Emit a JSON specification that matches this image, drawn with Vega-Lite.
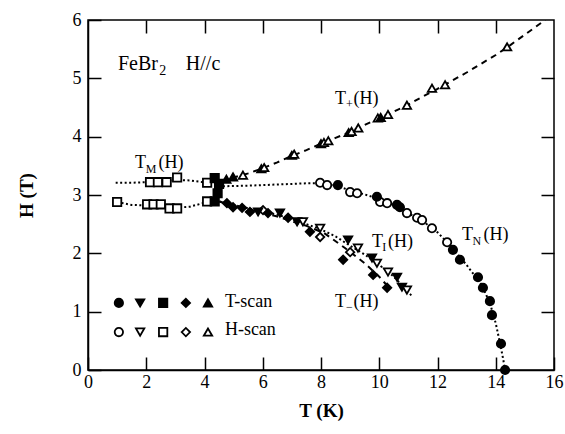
{
  "$schema": "https://vega.github.io/schema/vega-lite/v6.json",
  "width": 466,
  "height": 350,
  "autosize": "none",
  "padding": {"left": 88, "top": 20, "right": 11, "bottom": 64},
  "background": "white",
  "config": {
    "font": "Liberation Serif, Times New Roman, Times, serif",
    "view": {"stroke": "black", "strokeWidth": 1.5},
    "text": {"font": "Liberation Serif, Times New Roman, Times, serif"},
    "axis": {"grid": false, "domainColor": "black", "domainWidth": 1.5, "tickColor": "black", "tickWidth": 1.5, "labelColor": "black", "titleColor": "black", "labelFont": "Liberation Serif, Times New Roman, Times, serif", "titleFont": "Liberation Serif, Times New Roman, Times, serif"}
  },
  "datasets": {
    "lines": [
      {"curve": "upper", "style": "dotted", "T": 0.95, "H": 3.21},
      {"curve": "upper", "style": "dotted", "T": 1.5, "H": 3.21},
      {"curve": "upper", "style": "dotted", "T": 2.0, "H": 3.22},
      {"curve": "upper", "style": "dotted", "T": 2.5, "H": 3.22},
      {"curve": "upper", "style": "dotted", "T": 3.0, "H": 3.26},
      {"curve": "upper", "style": "dotted", "T": 3.5, "H": 3.25},
      {"curve": "upper", "style": "dotted", "T": 4.1, "H": 3.21},
      {"curve": "upper", "style": "dotted", "T": 4.6, "H": 3.15},
      {"curve": "upper", "style": "dotted", "T": 5.5, "H": 3.16},
      {"curve": "upper", "style": "dotted", "T": 6.5, "H": 3.18},
      {"curve": "upper", "style": "dotted", "T": 7.5, "H": 3.2},
      {"curve": "upper", "style": "dotted", "T": 8.0, "H": 3.2},
      {"curve": "upper", "style": "dotted", "T": 8.5, "H": 3.16},
      {"curve": "upper", "style": "dotted", "T": 9.0, "H": 3.08},
      {"curve": "upper", "style": "dotted", "T": 9.5, "H": 3.01},
      {"curve": "upper", "style": "dotted", "T": 10.0, "H": 2.93},
      {"curve": "upper", "style": "dotted", "T": 10.5, "H": 2.83},
      {"curve": "upper", "style": "dotted", "T": 11.0, "H": 2.69},
      {"curve": "upper", "style": "dotted", "T": 11.5, "H": 2.55},
      {"curve": "upper", "style": "dotted", "T": 12.0, "H": 2.36},
      {"curve": "upper", "style": "dotted", "T": 12.5, "H": 2.1},
      {"curve": "upper", "style": "dotted", "T": 13.0, "H": 1.8},
      {"curve": "upper", "style": "dotted", "T": 13.5, "H": 1.47},
      {"curve": "upper", "style": "dotted", "T": 13.8, "H": 1.15},
      {"curve": "upper", "style": "dotted", "T": 14.0, "H": 0.8},
      {"curve": "upper", "style": "dotted", "T": 14.15, "H": 0.45},
      {"curve": "upper", "style": "dotted", "T": 14.25, "H": 0.2},
      {"curve": "upper", "style": "dotted", "T": 14.32, "H": 0.0},
      {"curve": "lower", "style": "dotted", "T": 1.0, "H": 2.88},
      {"curve": "lower", "style": "dotted", "T": 1.5, "H": 2.83},
      {"curve": "lower", "style": "dotted", "T": 2.0, "H": 2.82},
      {"curve": "lower", "style": "dotted", "T": 3.0, "H": 2.78},
      {"curve": "lower", "style": "dotted", "T": 3.5, "H": 2.8},
      {"curve": "lower", "style": "dotted", "T": 4.1, "H": 2.88},
      {"curve": "lower", "style": "dotted", "T": 4.5, "H": 2.89},
      {"curve": "lower", "style": "dotted", "T": 5.0, "H": 2.83},
      {"curve": "lower", "style": "dotted", "T": 5.5, "H": 2.77},
      {"curve": "lower", "style": "dotted", "T": 6.0, "H": 2.72},
      {"curve": "lower", "style": "dotted", "T": 6.5, "H": 2.66},
      {"curve": "lower", "style": "dotted", "T": 7.0, "H": 2.59},
      {"curve": "lower", "style": "dotted", "T": 7.5, "H": 2.5},
      {"curve": "lower", "style": "dotted", "T": 8.0, "H": 2.41},
      {"curve": "lower", "style": "dotted", "T": 8.5, "H": 2.29},
      {"curve": "lower", "style": "dotted", "T": 9.0, "H": 2.13},
      {"curve": "lower", "style": "dotted", "T": 9.5, "H": 1.98},
      {"curve": "lower", "style": "dotted", "T": 10.0, "H": 1.8},
      {"curve": "lower", "style": "dotted", "T": 10.5, "H": 1.6},
      {"curve": "lower", "style": "dotted", "T": 11.1, "H": 1.28},
      {"curve": "minus", "style": "dashed", "T": 4.5, "H": 2.89},
      {"curve": "minus", "style": "dashed", "T": 5.5, "H": 2.76},
      {"curve": "minus", "style": "dashed", "T": 6.5, "H": 2.63},
      {"curve": "minus", "style": "dashed", "T": 7.5, "H": 2.47},
      {"curve": "minus", "style": "dashed", "T": 8.1, "H": 2.35},
      {"curve": "minus", "style": "dashed", "T": 8.8, "H": 2.1},
      {"curve": "minus", "style": "dashed", "T": 9.5, "H": 1.83},
      {"curve": "minus", "style": "dashed", "T": 10.0, "H": 1.6},
      {"curve": "minus", "style": "dashed", "T": 10.35, "H": 1.4},
      {"curve": "plus", "style": "dashed", "T": 4.6, "H": 3.22},
      {"curve": "plus", "style": "dashed", "T": 5.0, "H": 3.3},
      {"curve": "plus", "style": "dashed", "T": 5.5, "H": 3.37},
      {"curve": "plus", "style": "dashed", "T": 6.0, "H": 3.46},
      {"curve": "plus", "style": "dashed", "T": 6.5, "H": 3.56},
      {"curve": "plus", "style": "dashed", "T": 7.0, "H": 3.67},
      {"curve": "plus", "style": "dashed", "T": 7.5, "H": 3.77},
      {"curve": "plus", "style": "dashed", "T": 8.0, "H": 3.88},
      {"curve": "plus", "style": "dashed", "T": 8.5, "H": 3.98},
      {"curve": "plus", "style": "dashed", "T": 9.0, "H": 4.08},
      {"curve": "plus", "style": "dashed", "T": 9.5, "H": 4.2},
      {"curve": "plus", "style": "dashed", "T": 10.0, "H": 4.32},
      {"curve": "plus", "style": "dashed", "T": 10.5, "H": 4.43},
      {"curve": "plus", "style": "dashed", "T": 11.0, "H": 4.55},
      {"curve": "plus", "style": "dashed", "T": 11.5, "H": 4.69},
      {"curve": "plus", "style": "dashed", "T": 12.0, "H": 4.82},
      {"curve": "plus", "style": "dashed", "T": 12.5, "H": 4.96},
      {"curve": "plus", "style": "dashed", "T": 13.0, "H": 5.1},
      {"curve": "plus", "style": "dashed", "T": 13.5, "H": 5.25},
      {"curve": "plus", "style": "dashed", "T": 14.0, "H": 5.4},
      {"curve": "plus", "style": "dashed", "T": 14.5, "H": 5.57},
      {"curve": "plus", "style": "dashed", "T": 15.0, "H": 5.75},
      {"curve": "plus", "style": "dashed", "T": 15.7, "H": 6.0}
    ],
    "pts": [
      {"T": 7.97, "H": 3.21, "shape": "circle", "scan": "H-scan"},
      {"T": 8.21, "H": 3.17, "shape": "circle", "scan": "H-scan"},
      {"T": 9.0, "H": 3.05, "shape": "circle", "scan": "H-scan"},
      {"T": 9.24, "H": 3.03, "shape": "circle", "scan": "H-scan"},
      {"T": 10.03, "H": 2.88, "shape": "circle", "scan": "H-scan"},
      {"T": 10.27, "H": 2.86, "shape": "circle", "scan": "H-scan"},
      {"T": 10.95, "H": 2.69, "shape": "circle", "scan": "H-scan"},
      {"T": 11.3, "H": 2.61, "shape": "circle", "scan": "H-scan"},
      {"T": 11.47, "H": 2.57, "shape": "circle", "scan": "H-scan"},
      {"T": 11.81, "H": 2.43, "shape": "circle", "scan": "H-scan"},
      {"T": 12.33, "H": 2.19, "shape": "circle", "scan": "H-scan"},
      {"T": 8.58, "H": 3.17, "shape": "circle", "scan": "T-scan"},
      {"T": 9.92, "H": 2.97, "shape": "circle", "scan": "T-scan"},
      {"T": 10.61, "H": 2.83, "shape": "circle", "scan": "T-scan"},
      {"T": 10.71, "H": 2.79, "shape": "circle", "scan": "T-scan"},
      {"T": 12.53, "H": 2.06, "shape": "circle", "scan": "T-scan"},
      {"T": 12.77, "H": 1.89, "shape": "circle", "scan": "T-scan"},
      {"T": 13.39, "H": 1.59, "shape": "circle", "scan": "T-scan"},
      {"T": 13.56, "H": 1.41, "shape": "circle", "scan": "T-scan"},
      {"T": 13.8, "H": 1.18, "shape": "circle", "scan": "T-scan"},
      {"T": 13.87, "H": 0.94, "shape": "circle", "scan": "T-scan"},
      {"T": 14.18, "H": 0.45, "shape": "circle", "scan": "T-scan"},
      {"T": 14.32, "H": 0.0, "shape": "circle", "scan": "T-scan"},
      {"T": 4.75, "H": 3.27, "shape": "triangle-up", "scan": "T-scan"},
      {"T": 4.98, "H": 3.31, "shape": "triangle-up", "scan": "T-scan"},
      {"T": 5.32, "H": 3.34, "shape": "triangle-up", "scan": "H-scan"},
      {"T": 5.95, "H": 3.45, "shape": "triangle-up", "scan": "T-scan"},
      {"T": 6.05, "H": 3.47, "shape": "triangle-up", "scan": "H-scan"},
      {"T": 7.0, "H": 3.68, "shape": "triangle-up", "scan": "T-scan"},
      {"T": 7.08, "H": 3.7, "shape": "triangle-up", "scan": "H-scan"},
      {"T": 8.0, "H": 3.88, "shape": "triangle-up", "scan": "T-scan"},
      {"T": 8.1, "H": 3.9, "shape": "triangle-up", "scan": "H-scan"},
      {"T": 8.25, "H": 3.93, "shape": "triangle-up", "scan": "H-scan"},
      {"T": 8.95, "H": 4.07, "shape": "triangle-up", "scan": "T-scan"},
      {"T": 9.05, "H": 4.09, "shape": "triangle-up", "scan": "H-scan"},
      {"T": 9.28, "H": 4.15, "shape": "triangle-up", "scan": "H-scan"},
      {"T": 9.95, "H": 4.32, "shape": "triangle-up", "scan": "H-scan"},
      {"T": 10.05, "H": 4.33, "shape": "triangle-up", "scan": "T-scan"},
      {"T": 10.3, "H": 4.38, "shape": "triangle-up", "scan": "H-scan"},
      {"T": 10.95, "H": 4.54, "shape": "triangle-up", "scan": "H-scan"},
      {"T": 11.81, "H": 4.83, "shape": "triangle-up", "scan": "H-scan"},
      {"T": 12.26, "H": 4.89, "shape": "triangle-up", "scan": "H-scan"},
      {"T": 14.39, "H": 5.54, "shape": "triangle-up", "scan": "H-scan"},
      {"T": 1.0, "H": 2.88, "shape": "square", "scan": "H-scan"},
      {"T": 2.03, "H": 2.84, "shape": "square", "scan": "H-scan"},
      {"T": 2.25, "H": 2.84, "shape": "square", "scan": "H-scan"},
      {"T": 2.5, "H": 2.84, "shape": "square", "scan": "H-scan"},
      {"T": 2.8, "H": 2.77, "shape": "square", "scan": "H-scan"},
      {"T": 3.06, "H": 2.77, "shape": "square", "scan": "H-scan"},
      {"T": 2.13, "H": 3.22, "shape": "square", "scan": "H-scan"},
      {"T": 2.4, "H": 3.22, "shape": "square", "scan": "H-scan"},
      {"T": 2.7, "H": 3.22, "shape": "square", "scan": "H-scan"},
      {"T": 3.06, "H": 3.3, "shape": "square", "scan": "H-scan"},
      {"T": 4.09, "H": 3.21, "shape": "square", "scan": "H-scan"},
      {"T": 4.09, "H": 2.89, "shape": "square", "scan": "H-scan"},
      {"T": 4.35, "H": 3.29, "shape": "square", "scan": "T-scan"},
      {"T": 4.5, "H": 3.19, "shape": "square", "scan": "T-scan"},
      {"T": 4.45, "H": 3.03, "shape": "square", "scan": "T-scan"},
      {"T": 4.35, "H": 2.89, "shape": "square", "scan": "T-scan"},
      {"T": 4.77, "H": 2.86, "shape": "diamond", "scan": "T-scan"},
      {"T": 4.98, "H": 2.79, "shape": "diamond", "scan": "T-scan"},
      {"T": 5.29, "H": 2.78, "shape": "diamond", "scan": "T-scan"},
      {"T": 5.56, "H": 2.71, "shape": "diamond", "scan": "T-scan"},
      {"T": 6.01, "H": 2.74, "shape": "diamond", "scan": "H-scan"},
      {"T": 6.18, "H": 2.69, "shape": "diamond", "scan": "T-scan"},
      {"T": 6.87, "H": 2.61, "shape": "diamond", "scan": "T-scan"},
      {"T": 7.62, "H": 2.37, "shape": "diamond", "scan": "T-scan"},
      {"T": 7.97, "H": 2.28, "shape": "diamond", "scan": "H-scan"},
      {"T": 8.76, "H": 1.89, "shape": "diamond", "scan": "T-scan"},
      {"T": 9.0, "H": 2.02, "shape": "diamond", "scan": "H-scan"},
      {"T": 9.79, "H": 1.63, "shape": "diamond", "scan": "T-scan"},
      {"T": 10.27, "H": 1.41, "shape": "diamond", "scan": "T-scan"},
      {"T": 5.84, "H": 2.71, "shape": "triangle-down", "scan": "T-scan"},
      {"T": 6.59, "H": 2.69, "shape": "triangle-down", "scan": "T-scan"},
      {"T": 7.18, "H": 2.54, "shape": "triangle-down", "scan": "T-scan"},
      {"T": 7.38, "H": 2.54, "shape": "triangle-down", "scan": "H-scan"},
      {"T": 7.97, "H": 2.43, "shape": "triangle-down", "scan": "H-scan"},
      {"T": 8.93, "H": 2.23, "shape": "triangle-down", "scan": "T-scan"},
      {"T": 9.27, "H": 2.09, "shape": "triangle-down", "scan": "H-scan"},
      {"T": 9.75, "H": 1.92, "shape": "triangle-down", "scan": "T-scan"},
      {"T": 9.92, "H": 1.83, "shape": "triangle-down", "scan": "H-scan"},
      {"T": 10.3, "H": 1.68, "shape": "triangle-down", "scan": "H-scan"},
      {"T": 10.61, "H": 1.59, "shape": "triangle-down", "scan": "T-scan"},
      {"T": 10.78, "H": 1.42, "shape": "triangle-down", "scan": "T-scan"},
      {"T": 10.95, "H": 1.37, "shape": "triangle-down", "scan": "H-scan"},
      {"T": 1.06, "H": 1.15, "shape": "circle", "scan": "T-scan"},
      {"T": 1.79, "H": 1.15, "shape": "triangle-down", "scan": "T-scan"},
      {"T": 2.58, "H": 1.15, "shape": "square", "scan": "T-scan"},
      {"T": 3.36, "H": 1.15, "shape": "diamond", "scan": "T-scan"},
      {"T": 4.12, "H": 1.15, "shape": "triangle-up", "scan": "T-scan"},
      {"T": 1.06, "H": 0.65, "shape": "circle", "scan": "H-scan"},
      {"T": 1.79, "H": 0.65, "shape": "triangle-down", "scan": "H-scan"},
      {"T": 2.58, "H": 0.65, "shape": "square", "scan": "H-scan"},
      {"T": 3.36, "H": 0.65, "shape": "diamond", "scan": "H-scan"},
      {"T": 4.12, "H": 0.65, "shape": "triangle-up", "scan": "H-scan"}
    ],
    "lab": [
      {"txt": "FeBr", "T": 1.03, "H": 5.14},
      {"txt": "H//c", "T": 3.36, "H": 5.14}
    ],
    "sub2": [
      {"txt": "2", "T": 2.45, "H": 5.05}
    ],
    "lab18": [
      {"txt": "T", "T": 1.61, "H": 3.46},
      {"txt": "(H)", "T": 2.42, "H": 3.46},
      {"txt": "T", "T": 8.48, "H": 4.56},
      {"txt": "(H)", "T": 9.12, "H": 4.56},
      {"txt": "T", "T": 12.84, "H": 2.23},
      {"txt": "(H)", "T": 13.58, "H": 2.23},
      {"txt": "T", "T": 9.75, "H": 2.11},
      {"txt": "(H)", "T": 10.3, "H": 2.11},
      {"txt": "T", "T": 8.48, "H": 1.08},
      {"txt": "(H)", "T": 9.12, "H": 1.08},
      {"txt": "T-scan", "T": 4.7, "H": 1.08},
      {"txt": "H-scan", "T": 4.7, "H": 0.6}
    ],
    "subs": [
      {"txt": "M", "T": 1.98, "H": 3.38},
      {"txt": "+", "T": 8.86, "H": 4.5},
      {"txt": "N", "T": 13.2, "H": 2.15},
      {"txt": "I", "T": 10.1, "H": 2.04},
      {"txt": "\u2212", "T": 8.86, "H": 1.02}
    ]
  },
  "resolve": {"axis": {"x": "independent", "y": "independent"}},
  "layer": [
    {
      "data": {"name": "lines"},
      "mark": {"type": "line", "color": "black", "strokeWidth": 2, "clip": true},
      "encoding": {
        "x": {"field": "T", "type": "quantitative", "scale": {"domain": [0, 16], "nice": false, "zero": false},
              "axis": {"orient": "bottom", "values": [0, 2, 4, 6, 8, 10, 12, 14, 16], "format": "d", "tickSize": -13, "labelPadding": 16, "labelFontSize": 18, "labelFont": "Liberation Serif", "title": "T (K)", "titleFontSize": 19, "titleFontWeight": "bold", "titleFont": "Liberation Serif", "titlePadding": 10, "labelFlush": false}},
        "y": {"field": "H", "type": "quantitative", "scale": {"domain": [0, 6], "nice": false, "zero": false},
              "axis": {"orient": "left", "values": [0, 1, 2, 3, 4, 5, 6], "format": "d", "tickSize": -13, "labelPadding": 20, "labelFontSize": 18, "labelFont": "Liberation Serif", "title": "H (T)", "titleFontSize": 19, "titleFontWeight": "bold", "titleFont": "Liberation Serif", "titlePadding": 36, "labelFlush": false}},
        "detail": {"field": "curve", "type": "nominal"},
        "strokeDash": {"field": "style", "type": "nominal", "scale": {"domain": ["dotted", "dashed"], "range": [[2, 2.5], [6, 5]]}, "legend": null}
      }
    },
    {
      "data": {"name": "pts"},
      "mark": {"type": "point", "filled": false, "stroke": "black", "strokeWidth": 1.8, "size": 70, "opacity": 1},
      "encoding": {
        "x": {"field": "T", "type": "quantitative", "scale": {"domain": [0, 16], "nice": false, "zero": false},
              "axis": {"orient": "top", "values": [2, 4, 6, 8, 10, 12, 14], "tickSize": -13, "labels": false, "title": null, "domain": false}},
        "y": {"field": "H", "type": "quantitative", "scale": {"domain": [0, 6], "nice": false, "zero": false},
              "axis": {"orient": "right", "values": [1, 2, 3, 4, 5], "tickSize": -13, "labels": false, "title": null, "domain": false}},
        "shape": {"field": "shape", "type": "nominal", "scale": {"domain": ["circle", "triangle-down", "square", "diamond", "triangle-up"], "range": ["circle", "triangle-down", "square", "diamond", "triangle-up"]}, "legend": null},
        "fill": {"field": "scan", "type": "nominal", "scale": {"domain": ["T-scan", "H-scan"], "range": ["black", "white"]}, "legend": null}
      }
    },
    {
      "data": {"name": "lab"},
      "mark": {"type": "text", "align": "left", "baseline": "alphabetic", "fontSize": 20, "color": "black"},
      "encoding": {
        "x": {"field": "T", "type": "quantitative", "axis": null},
        "y": {"field": "H", "type": "quantitative", "axis": null},
        "text": {"field": "txt"}
      }
    },
    {
      "data": {"name": "sub2"},
      "mark": {"type": "text", "align": "left", "baseline": "alphabetic", "fontSize": 14, "color": "black"},
      "encoding": {
        "x": {"field": "T", "type": "quantitative", "axis": null},
        "y": {"field": "H", "type": "quantitative", "axis": null},
        "text": {"field": "txt"}
      }
    },
    {
      "data": {"name": "lab18"},
      "mark": {"type": "text", "align": "left", "baseline": "alphabetic", "fontSize": 18, "color": "black"},
      "encoding": {
        "x": {"field": "T", "type": "quantitative", "axis": null},
        "y": {"field": "H", "type": "quantitative", "axis": null},
        "text": {"field": "txt"}
      }
    },
    {
      "data": {"name": "subs"},
      "mark": {"type": "text", "align": "left", "baseline": "alphabetic", "fontSize": 12, "color": "black"},
      "encoding": {
        "x": {"field": "T", "type": "quantitative", "axis": null},
        "y": {"field": "H", "type": "quantitative", "axis": null},
        "text": {"field": "txt"}
      }
    }
  ]
}
